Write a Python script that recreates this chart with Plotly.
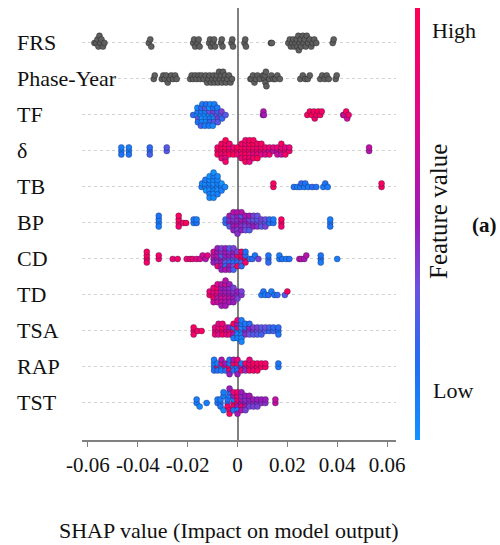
import numpy as np
import plotly.graph_objects as go

# Features, top to bottom
FEATURES = ["FRS", "Phase-Year", "TF", "δ", "TB", "BP", "CD", "TD", "TSA", "RAP", "TST"]

# Features without a feature-value colour (drawn grey): SHAP values only
FRS = [-0.0574, -0.0566, -0.0562, -0.0558, -0.0554, -0.0550, -0.0546, -0.0540, -0.0534,
       -0.0356, -0.0350, -0.0346,
       -0.0178, -0.0174, -0.0170, -0.0160, -0.0156, -0.0152,
       -0.0114, -0.0110, -0.0106, -0.0098, -0.0094, -0.0090,
       -0.0066, -0.0063, -0.0060,
       -0.0024, -0.0021, -0.0018,
       0.0028, 0.0031, 0.0034,
       0.0134, 0.0138,
       0.0204, 0.0210, 0.0214, 0.0220, 0.0224, 0.0228, 0.0234, 0.0238, 0.0240, 0.0244,
       0.0246, 0.0250, 0.0254, 0.0256, 0.0262, 0.0266, 0.0270, 0.0274, 0.0278, 0.0284,
       0.0290, 0.0296, 0.0302, 0.0308, 0.0316,
       0.0382, 0.0386]

PHASE_YEAR = [-0.0336, -0.0332,
              -0.0304, -0.0298, -0.0292, -0.0286, -0.0280, -0.0272, -0.0266, -0.0258, -0.0250, -0.0244,
              -0.0190, -0.0184, -0.0178, -0.0170, -0.0164, -0.0156, -0.0150, -0.0144, -0.0136,
              -0.0128, -0.0122, -0.0116, -0.0112, -0.0106, -0.0100, -0.0096, -0.0092, -0.0086,
              -0.0082, -0.0078, -0.0074, -0.0070, -0.0066, -0.0062, -0.0058, -0.0054, -0.0050,
              -0.0046, -0.0040, -0.0034, -0.0028, -0.0022,
              0.0052, 0.0056, 0.0062, 0.0068, 0.0074, 0.0080, 0.0090, 0.0102,
              0.0108, 0.0110, 0.0112, 0.0114, 0.0116,
              0.0128, 0.0136, 0.0144, 0.0152, 0.0160, 0.0170,
              0.0252, 0.0262, 0.0272, 0.0282, 0.0290,
              0.0332, 0.0340, 0.0350, 0.0358, 0.0366,
              0.0394, 0.0398]

# Coloured features: (SHAP value, normalised feature value)
TF = [(-0.0178, 0.2),
      (-0.0162, 0.05), (-0.0160, 0.1), (-0.0158, 0.3), (-0.0161, 0.05), (-0.0159, 0.15),
      (-0.0146, 0.05), (-0.0144, 0.1), (-0.0142, 0.0), (-0.0145, 0.2), (-0.0143, 0.05), (-0.0141, 0.1), (-0.0147, 0.25),
      (-0.0130, 0.0), (-0.0128, 0.1), (-0.0126, 0.05), (-0.0129, 0.3), (-0.0127, 0.05), (-0.0125, 0.15), (-0.0131, 0.1),
      (-0.0114, 0.05), (-0.0112, 0.35), (-0.0110, 0.1), (-0.0113, 0.0), (-0.0111, 0.2), (-0.0109, 0.05), (-0.0115, 0.1),
      (-0.0098, 0.1), (-0.0096, 0.4), (-0.0094, 0.05), (-0.0097, 0.15), (-0.0095, 0.3), (-0.0093, 0.1), (-0.0099, 0.05),
      (-0.0082, 0.35), (-0.0080, 0.2), (-0.0078, 0.4), (-0.0081, 0.1), (-0.0079, 0.3),
      (-0.0066, 0.3), (-0.0064, 0.4), (-0.0062, 0.2),
      (-0.0048, 0.3),
      (0.0102, 0.55), (0.0104, 0.6), (0.0106, 0.55),
      (0.0280, 0.95), (0.0290, 0.95), (0.0298, 1.0), (0.0306, 0.95), (0.0310, 0.9),
      (0.0318, 0.95), (0.0324, 1.0), (0.0332, 0.95), (0.0338, 0.9),
      (0.0424, 0.9), (0.0428, 0.65), (0.0436, 0.95), (0.0440, 0.7), (0.0446, 0.9)]

DELTA = [(-0.0466, 0.1), (-0.0466, 0.1), (-0.0466, 0.15),
         (-0.0436, 0.1), (-0.0436, 0.1), (-0.0436, 0.15),
         (-0.0352, 0.2), (-0.0352, 0.2), (-0.0352, 0.25),
         (-0.0284, 0.3), (-0.0284, 0.3),
         (-0.0080, 0.95), (-0.0080, 0.9), (-0.0080, 1.0),
         (-0.0064, 0.95), (-0.0064, 1.0), (-0.0064, 0.9), (-0.0064, 0.95), (-0.0064, 0.85),
         (-0.0048, 0.95), (-0.0048, 1.0), (-0.0048, 0.9), (-0.0048, 0.95), (-0.0048, 0.8), (-0.0048, 1.0), (-0.0048, 0.9),
         (-0.0032, 0.95), (-0.0032, 0.85), (-0.0032, 1.0), (-0.0032, 0.9),
         (-0.0016, 0.95), (-0.0016, 0.9), (-0.0016, 1.0),
         (0.0000, 0.9), (0.0000, 0.95), (0.0000, 0.85),
         (0.0016, 0.95), (0.0016, 1.0), (0.0016, 0.9), (0.0016, 0.95), (0.0016, 0.85),
         (0.0032, 0.95), (0.0032, 0.9), (0.0032, 1.0), (0.0032, 0.85), (0.0032, 0.95), (0.0032, 0.9), (0.0032, 1.0),
         (0.0048, 0.9), (0.0048, 0.95), (0.0048, 0.85), (0.0048, 1.0), (0.0048, 0.9), (0.0048, 0.95), (0.0048, 0.8),
         (0.0064, 0.95), (0.0064, 0.9), (0.0064, 0.85), (0.0064, 1.0), (0.0064, 0.9), (0.0064, 0.95),
         (0.0080, 0.9), (0.0080, 0.95), (0.0080, 0.85), (0.0080, 0.9), (0.0080, 1.0),
         (0.0096, 0.85), (0.0096, 0.9), (0.0096, 0.8), (0.0096, 0.95),
         (0.0112, 0.8), (0.0112, 0.9), (0.0112, 0.75),
         (0.0128, 0.7), (0.0128, 0.85), (0.0128, 0.9),
         (0.0144, 0.65), (0.0144, 0.8),
         (0.0160, 0.6), (0.0160, 0.85), (0.0160, 0.7),
         (0.0176, 0.9), (0.0176, 0.85), (0.0176, 0.65), (0.0176, 0.95),
         (0.0192, 0.9), (0.0192, 0.8), (0.0192, 0.95),
         (0.0208, 0.9), (0.0208, 0.85),
         (0.0528, 0.6), (0.0528, 0.65)]

TB = [(-0.0144, 0.1), (-0.0142, 0.05),
      (-0.0128, 0.1), (-0.0130, 0.05), (-0.0126, 0.0), (-0.0129, 0.1),
      (-0.0112, 0.05), (-0.0112, 0.1), (-0.0112, 0.0), (-0.0112, 0.05), (-0.0112, 0.1), (-0.0112, 0.0), (-0.0112, 0.05),
      (-0.0096, 0.05), (-0.0096, 0.0), (-0.0096, 0.1), (-0.0096, 0.05), (-0.0096, 0.0), (-0.0096, 0.1), (-0.0096, 0.05), (-0.0096, 0.0),
      (-0.0080, 0.05), (-0.0080, 0.1), (-0.0080, 0.0), (-0.0080, 0.05), (-0.0080, 0.1), (-0.0080, 0.05),
      (-0.0064, 0.05), (-0.0064, 0.0), (-0.0064, 0.1),
      (-0.0050, 0.05),
      (0.0144, 0.95), (0.0144, 0.95),
      (0.0226, 0.15), (0.0240, 0.1), (0.0252, 0.1), (0.0256, 0.2), (0.0268, 0.1),
      (0.0272, 0.15), (0.0284, 0.1), (0.0300, 0.2), (0.0316, 0.15),
      (0.0344, 0.1), (0.0352, 0.15), (0.0362, 0.1),
      (0.0578, 0.95), (0.0578, 0.95)]

BP = [(-0.0316, 0.1), (-0.0316, 0.1), (-0.0316, 0.1), (-0.0316, 0.15),
      (-0.0236, 0.95), (-0.0236, 0.95), (-0.0236, 0.9), (-0.0236, 0.95),
      (-0.0218, 0.9), (-0.0206, 0.95),
      (-0.0176, 0.1), (-0.0176, 0.1), (-0.0164, 0.15), (-0.0164, 0.1),
      (-0.0048, 0.2), (-0.0048, 0.2),
      (-0.0032, 0.5), (-0.0032, 0.45), (-0.0032, 0.3), (-0.0032, 0.55),
      (-0.0016, 0.5), (-0.0016, 0.45), (-0.0016, 0.55), (-0.0016, 0.4), (-0.0016, 0.5), (-0.0016, 0.6),
      (0.0000, 0.5), (0.0000, 0.45), (0.0000, 0.55), (0.0000, 0.5), (0.0000, 0.4), (0.0000, 0.6), (0.0000, 0.45),
      (0.0016, 0.5), (0.0016, 0.55), (0.0016, 0.45), (0.0016, 0.3), (0.0016, 0.5), (0.0016, 0.6),
      (0.0032, 0.45), (0.0032, 0.5), (0.0032, 0.4), (0.0032, 0.55), (0.0032, 0.35),
      (0.0048, 0.5), (0.0048, 0.4), (0.0048, 0.45), (0.0048, 0.55), (0.0048, 0.3),
      (0.0064, 0.45), (0.0064, 0.35), (0.0064, 0.5), (0.0064, 0.4),
      (0.0080, 0.4), (0.0080, 0.3), (0.0080, 0.45), (0.0080, 0.35),
      (0.0096, 0.35), (0.0096, 0.4), (0.0096, 0.3),
      (0.0112, 0.3), (0.0112, 0.35), (0.0112, 0.4),
      (0.0128, 0.15), (0.0128, 0.2),
      (0.0144, 0.15), (0.0144, 0.1),
      (0.0176, 0.95), (0.0176, 0.95), (0.0176, 0.9),
      (0.0372, 0.1), (0.0372, 0.1), (0.0372, 0.15)]

CD = [(-0.0364, 0.95), (-0.0364, 0.95), (-0.0364, 0.9), (-0.0364, 0.95),
      (-0.0316, 0.9), (-0.0316, 0.9),
      (-0.0260, 0.85), (-0.0240, 0.9),
      (-0.0204, 0.85), (-0.0190, 0.9), (-0.0180, 0.85), (-0.0164, 0.8),
      (-0.0150, 0.75), (-0.0140, 0.7), (-0.0128, 0.6), (-0.0120, 0.8),
      (-0.0096, 0.55), (-0.0096, 0.6), (-0.0096, 0.5), (-0.0096, 0.7),
      (-0.0080, 0.5), (-0.0080, 0.6), (-0.0080, 0.45), (-0.0080, 0.55), (-0.0080, 0.8), (-0.0080, 0.5),
      (-0.0064, 0.5), (-0.0064, 0.3), (-0.0064, 0.55), (-0.0064, 0.45), (-0.0064, 0.6), (-0.0064, 0.4), (-0.0064, 0.5),
      (-0.0048, 0.45), (-0.0048, 0.5), (-0.0048, 0.3), (-0.0048, 0.55), (-0.0048, 0.2), (-0.0048, 0.5), (-0.0048, 0.6),
      (-0.0032, 0.4), (-0.0032, 0.5), (-0.0032, 0.25), (-0.0032, 0.45), (-0.0032, 0.55), (-0.0032, 0.3), (-0.0032, 0.5),
      (-0.0016, 0.3), (-0.0016, 0.45), (-0.0016, 0.2), (-0.0016, 0.5), (-0.0016, 0.35), (-0.0016, 0.4), (-0.0016, 0.25),
      (0.0000, 0.3), (0.0000, 0.9), (0.0000, 0.2), (0.0000, 0.4), (0.0000, 0.95),
      (0.0016, 0.95), (0.0016, 0.9), (0.0016, 0.3), (0.0016, 0.95), (0.0016, 0.2),
      (0.0032, 0.95), (0.0032, 0.2), (0.0032, 0.9), (0.0032, 0.15),
      (0.0050, 0.1), (0.0060, 0.2), (0.0070, 0.15), (0.0084, 0.4),
      (0.0124, 0.15), (0.0124, 0.15), (0.0124, 0.2),
      (0.0168, 0.1), (0.0168, 0.1), (0.0180, 0.15), (0.0196, 0.1), (0.0208, 0.15),
      (0.0248, 0.6), (0.0256, 0.65), (0.0268, 0.55), (0.0276, 0.6),
      (0.0334, 0.15), (0.0334, 0.15), (0.0334, 0.1),
      (0.0400, 0.1)]

TD = [(-0.0112, 0.9), (-0.0112, 0.85),
      (-0.0096, 0.9), (-0.0096, 0.8), (-0.0096, 0.95), (-0.0096, 0.85), (-0.0096, 0.7),
      (-0.0080, 0.7), (-0.0080, 0.85), (-0.0080, 0.6), (-0.0080, 0.9), (-0.0080, 0.65), (-0.0080, 0.75),
      (-0.0064, 0.6), (-0.0064, 0.55), (-0.0064, 0.7), (-0.0064, 0.5), (-0.0064, 0.65), (-0.0064, 0.6), (-0.0064, 0.55),
      (-0.0048, 0.6), (-0.0048, 0.55), (-0.0048, 0.65), (-0.0048, 0.5), (-0.0048, 0.6), (-0.0048, 0.7), (-0.0048, 0.55), (-0.0048, 0.6),
      (-0.0032, 0.55), (-0.0032, 0.5), (-0.0032, 0.6), (-0.0032, 0.45), (-0.0032, 0.55), (-0.0032, 0.5),
      (-0.0016, 0.5), (-0.0016, 0.45), (-0.0016, 0.55), (-0.0016, 0.4), (-0.0016, 0.5),
      (0.0000, 0.45), (0.0000, 0.5), (0.0000, 0.4),
      (0.0016, 0.45), (0.0016, 0.4),
      (0.0096, 0.1), (0.0104, 0.15), (0.0112, 0.1), (0.0124, 0.2), (0.0136, 0.1), (0.0148, 0.15), (0.0160, 0.2),
      (0.0190, 0.3), (0.0200, 0.95)]

TSA = [(-0.0176, 0.95), (-0.0176, 0.95), (-0.0176, 0.9),
       (-0.0160, 0.9), (-0.0144, 0.95),
       (-0.0090, 0.9), (-0.0090, 0.85), (-0.0090, 0.9),
       (-0.0076, 0.8), (-0.0076, 0.85), (-0.0076, 0.75), (-0.0076, 0.8),
       (-0.0060, 0.95), (-0.0060, 0.9), (-0.0060, 0.95), (-0.0060, 0.85),
       (-0.0044, 0.7), (-0.0044, 0.75), (-0.0044, 0.8),
       (-0.0032, 0.9), (-0.0032, 0.5), (-0.0032, 0.85),
       (-0.0016, 0.9), (-0.0016, 0.2), (-0.0016, 0.6), (-0.0016, 0.95), (-0.0016, 0.1),
       (0.0000, 0.1), (0.0000, 0.9), (0.0000, 0.05), (0.0000, 0.5), (0.0000, 0.1), (0.0000, 0.85),
       (0.0016, 0.1), (0.0016, 0.05), (0.0016, 0.1), (0.0016, 0.15), (0.0016, 0.05), (0.0016, 0.1), (0.0016, 0.05),
       (0.0032, 0.5), (0.0032, 0.2), (0.0032, 0.45), (0.0032, 0.1),
       (0.0048, 0.4), (0.0048, 0.5), (0.0048, 0.35), (0.0048, 0.2),
       (0.0064, 0.45), (0.0064, 0.4), (0.0064, 0.3),
       (0.0080, 0.35), (0.0080, 0.4), (0.0080, 0.3),
       (0.0096, 0.35), (0.0096, 0.3), (0.0096, 0.25),
       (0.0112, 0.3), (0.0112, 0.35),
       (0.0128, 0.2), (0.0128, 0.25),
       (0.0144, 0.25), (0.0144, 0.2),
       (0.0164, 0.15), (0.0164, 0.2), (0.0164, 0.15)]

RAP = [(-0.0094, 0.1), (-0.0094, 0.1), (-0.0094, 0.15), (-0.0094, 0.1),
       (-0.0080, 0.9), (-0.0080, 0.1), (-0.0080, 0.2),
       (-0.0064, 0.15), (-0.0064, 0.85), (-0.0064, 0.1), (-0.0064, 0.6),
       (-0.0048, 0.9), (-0.0048, 0.5), (-0.0048, 0.2),
       (-0.0032, 0.9), (-0.0032, 0.1), (-0.0032, 0.95), (-0.0032, 0.15), (-0.0032, 0.5),
       (-0.0016, 0.1), (-0.0016, 0.9), (-0.0016, 0.2), (-0.0016, 0.6),
       (0.0000, 0.1), (0.0000, 0.95), (0.0000, 0.15), (0.0000, 0.85), (0.0000, 0.5),
       (0.0016, 0.55), (0.0016, 0.1), (0.0016, 0.9),
       (0.0032, 0.5), (0.0032, 0.9), (0.0032, 0.45),
       (0.0048, 0.95), (0.0048, 0.9), (0.0048, 0.95), (0.0048, 0.85),
       (0.0064, 0.9), (0.0064, 0.95), (0.0064, 0.9),
       (0.0080, 0.95), (0.0080, 0.9), (0.0080, 0.95),
       (0.0096, 0.9), (0.0096, 0.95),
       (0.0112, 0.95), (0.0112, 0.9),
       (0.0164, 0.1), (0.0164, 0.15)]

TST = [(-0.0164, 0.1), (-0.0164, 0.1), (-0.0152, 0.05), (-0.0124, 0.1),
       (-0.0080, 0.1), (-0.0080, 0.1),
       (-0.0068, 0.15), (-0.0068, 0.1), (-0.0068, 0.15),
       (-0.0056, 0.1), (-0.0056, 0.05), (-0.0056, 0.1),
       (-0.0040, 0.2), (-0.0040, 0.15), (-0.0040, 0.9),
       (-0.0032, 0.1), (-0.0032, 0.9), (-0.0032, 0.2), (-0.0032, 0.95), (-0.0032, 0.5),
       (-0.0016, 0.9), (-0.0016, 0.1), (-0.0016, 0.95), (-0.0016, 0.5), (-0.0016, 0.15), (-0.0016, 0.85),
       (0.0000, 0.95), (0.0000, 0.9), (0.0000, 0.5), (0.0000, 0.95), (0.0000, 0.1), (0.0000, 0.9), (0.0000, 0.55),
       (0.0016, 0.5), (0.0016, 0.55), (0.0016, 0.9), (0.0016, 0.45), (0.0016, 0.6), (0.0016, 0.5),
       (0.0032, 0.5), (0.0032, 0.45), (0.0032, 0.55), (0.0032, 0.5), (0.0032, 0.4),
       (0.0048, 0.45), (0.0048, 0.5), (0.0048, 0.4), (0.0048, 0.55),
       (0.0064, 0.45), (0.0064, 0.5), (0.0064, 0.4),
       (0.0080, 0.45), (0.0080, 0.5), (0.0080, 0.4),
       (0.0096, 0.45), (0.0096, 0.5),
       (0.0112, 0.45), (0.0112, 0.5),
       (0.0152, 0.65), (0.0152, 0.65)]

X_TICKS = [-0.06, -0.04, -0.02, 0, 0.02, 0.04, 0.06]
X_TICK_TEXT = ["-0.06", "-0.04", "-0.02", "0", "0.02", "0.04", "0.06"]

GREY_ROWS = {"FRS": FRS, "Phase-Year": PHASE_YEAR}
COLOUR_ROWS = {"TF": TF, "δ": DELTA, "TB": TB, "BP": BP, "CD": CD,
               "TD": TD, "TSA": TSA, "RAP": RAP, "TST": TST}

SERIF = "Liberation Serif"
COLORSCALE = [[0.0, "#1192ff"], [0.17, "#1f6ff5"], [0.35, "#6a52e0"],
              [0.5, "#9a1cbb"], [0.75, "#e0088a"], [1.0, "#ff0052"]]

BIN_W = 0.0016   # horizontal bin width used for stacking (SHAP units)
STEP = 0.1       # vertical spacing between stacked dots (row units)


def swarm_offsets(values):
    """Beeswarm offsets: points sharing a bin alternate above/below the row."""
    values = np.asarray(values, dtype=float)
    q = np.round(values / BIN_W).astype(int)
    order = np.argsort(q, kind="stable")
    offs = np.zeros(len(values))
    layer, last = 0, None
    for i in order:
        if q[i] != last:
            layer = 0
        offs[i] = np.ceil(layer / 2) * ((layer % 2) * 2 - 1)
        layer += 1
        last = q[i]
    return offs * STEP


n = len(FEATURES)
row_pos = {f: n - 1 - i for i, f in enumerate(FEATURES)}

fig = go.Figure()

gx, gy = [], []
for name, vals in GREY_ROWS.items():
    offs = swarm_offsets(vals)
    gx += list(vals)
    gy += list(row_pos[name] + offs)

fig.add_trace(go.Scatter(
    x=gx, y=gy, mode="markers", hoverinfo="skip", showlegend=False,
    marker=dict(size=6, color="#5f5f5f", line=dict(width=0.6, color="rgba(30,30,30,0.7)")),
))

cx, cy, cc = [], [], []
for name, pts in COLOUR_ROWS.items():
    vals = [p[0] for p in pts]
    offs = swarm_offsets(vals)
    cx += vals
    cy += list(row_pos[name] + offs)
    cc += [p[1] for p in pts]

fig.add_trace(go.Scatter(
    x=cx, y=cy, mode="markers", hoverinfo="skip", showlegend=False,
    marker=dict(
        size=6, color=cc, cmin=0, cmax=1, colorscale=COLORSCALE,
        line=dict(width=0.6, color="rgba(20,20,70,0.55)"),
        showscale=True,
        colorbar=dict(
            thickness=5, len=1, lenmode="fraction", y=0.5, yanchor="middle",
            x=(415 - 82) / 314, xanchor="left", xpad=0, ypad=0,
            outlinewidth=0, showticklabels=False, ticks="",
        ),
    ),
))

annotations = []
for name in FEATURES:
    annotations.append(dict(
        x=(15 - 82) / 314, xref="paper", y=row_pos[name], yref="y",
        text=name, showarrow=False, xanchor="left", yanchor="middle",
        font=dict(family=SERIF, size=22, color="#111"),
    ))

annotations += [
    dict(x=(430 - 82) / 314, xref="paper", y=1 - (30 - 8) / 432, yref="paper",
         text="High", showarrow=False, xanchor="left", yanchor="middle",
         font=dict(family=SERIF, size=22, color="#111")),
    dict(x=(431 - 82) / 314, xref="paper", y=1 - (390 - 8) / 432, yref="paper",
         text="Low", showarrow=False, xanchor="left", yanchor="middle",
         font=dict(family=SERIF, size=22, color="#111")),
    dict(x=(438 - 82) / 314, xref="paper", y=1 - (212 - 8) / 432, yref="paper",
         text="Feature value", textangle=-90, showarrow=False,
         xanchor="center", yanchor="middle",
         font=dict(family=SERIF, size=25, color="#111")),
    dict(x=(484 - 82) / 314, xref="paper", y=1 - (225 - 8) / 432, yref="paper",
         text="<b>(a)</b>", showarrow=False, xanchor="center", yanchor="middle",
         font=dict(family=SERIF, size=21, color="#111")),
    dict(x=(229 - 82) / 314, xref="paper", y=-(530 - 440) / 432, yref="paper",
         text="SHAP value (Impact on model output)", showarrow=False,
         xanchor="center", yanchor="middle",
         font=dict(family=SERIF, size=22, color="#111")),
]

fig.update_layout(
    width=500, height=545,
    margin=dict(l=82, r=104, t=8, b=105),
    paper_bgcolor="white", plot_bgcolor="white",
    font=dict(family=SERIF),
    annotations=annotations,
    xaxis=dict(
        range=[-0.0624, 0.0636], tickvals=X_TICKS, ticktext=X_TICK_TEXT,
        showgrid=False, zeroline=True, zerolinecolor="#808080", zerolinewidth=2,
        showline=True, linecolor="#808080", linewidth=1.5,
        ticks="outside", ticklen=5, tickcolor="#808080", tickwidth=1,
        tickfont=dict(family=SERIF, size=21, color="#111"),
    ),
    yaxis=dict(
        range=[-1.028, 10.972], tickvals=list(range(n)), showticklabels=False,
        showgrid=True, gridcolor="#d2d2d2", gridwidth=1, griddash="dot",
        zeroline=False, showline=False, ticks="",
    ),
)

fig.write_html("out.html")
